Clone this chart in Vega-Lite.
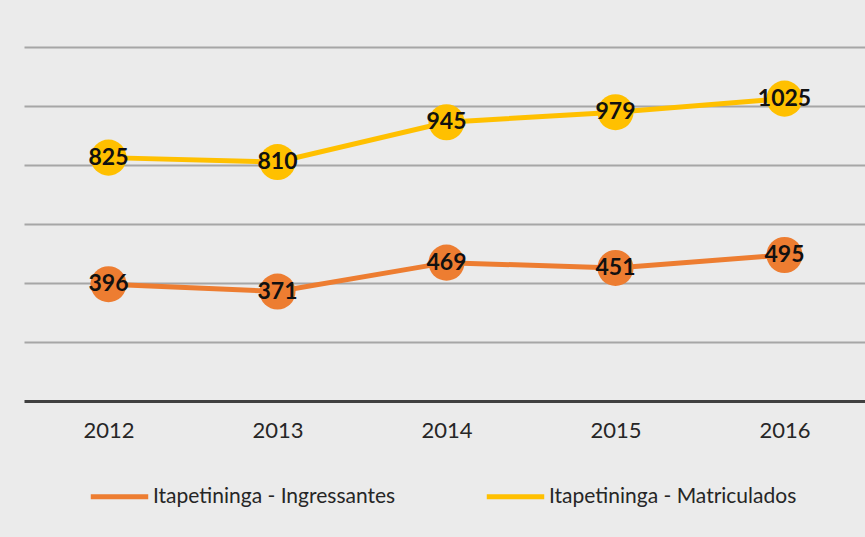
{
  "$schema": "https://vega.github.io/schema/vega-lite/v6.json",
  "width": 845,
  "height": 354,
  "autosize": "none",
  "padding": {"left": 24, "top": 47, "right": 0, "bottom": 136},
  "background": "#ebebeb",
  "config": {"view": {"stroke": null}, "font": "Lato"},
  "data": {
    "values": [
      {"ano": "2012", "serie": "Itapetininga - Ingressantes", "valor": 396},
      {"ano": "2013", "serie": "Itapetininga - Ingressantes", "valor": 371},
      {"ano": "2014", "serie": "Itapetininga - Ingressantes", "valor": 469},
      {"ano": "2015", "serie": "Itapetininga - Ingressantes", "valor": 451},
      {"ano": "2016", "serie": "Itapetininga - Ingressantes", "valor": 495},
      {"ano": "2012", "serie": "Itapetininga - Matriculados", "valor": 825},
      {"ano": "2013", "serie": "Itapetininga - Matriculados", "valor": 810},
      {"ano": "2014", "serie": "Itapetininga - Matriculados", "valor": 945},
      {"ano": "2015", "serie": "Itapetininga - Matriculados", "valor": 979},
      {"ano": "2016", "serie": "Itapetininga - Matriculados", "valor": 1025}
    ]
  },
  "encoding": {
    "x": {
      "field": "ano", "type": "ordinal",
      "scale": {"type": "point", "padding": 0.5},
      "axis": {"labelAngle": 0, "title": null, "domain": true, "domainColor": "#404040", "domainWidth": 3, "ticks": false, "labelFontSize": 22, "labelColor": "#262626", "labelPadding": 19, "labelFont": "Lato"}
    },
    "y": {
      "field": "valor", "type": "quantitative",
      "scale": {"domain": [0, 1200]},
      "axis": {"values": [200, 400, 600, 800, 1000, 1200], "labels": false, "ticks": false, "domain": false, "title": null, "gridColor": "#a6a6a6", "gridWidth": 2, "gridOpacity": 1}
    },
    "color": {
      "field": "serie", "type": "nominal",
      "scale": {"domain": ["Itapetininga - Ingressantes", "Itapetininga - Matriculados"], "range": ["#ed7d31", "#ffc000"]},
      "legend": {"orient": "none", "legendX": 64, "legendY": 418, "direction": "horizontal", "title": null, "symbolType": "stroke", "symbolStrokeWidth": 5, "symbolSize": 3300, "labelFontSize": 21, "labelColor": "#262626", "labelFont": "Lato", "labelLimit": 0, "columnPadding": 80, "labelOffset": 2}
    }
  },
  "layer": [
    {"mark": {"type": "line", "strokeWidth": 5}},
    {"mark": {"type": "circle", "size": 1300, "opacity": 1}},
    {
      "mark": {"type": "text", "fontWeight": "bold", "fontSize": 23, "font": "Lato"},
      "encoding": {"text": {"field": "valor", "type": "quantitative"}, "color": {"value": "#111111"}}
    }
  ]
}
